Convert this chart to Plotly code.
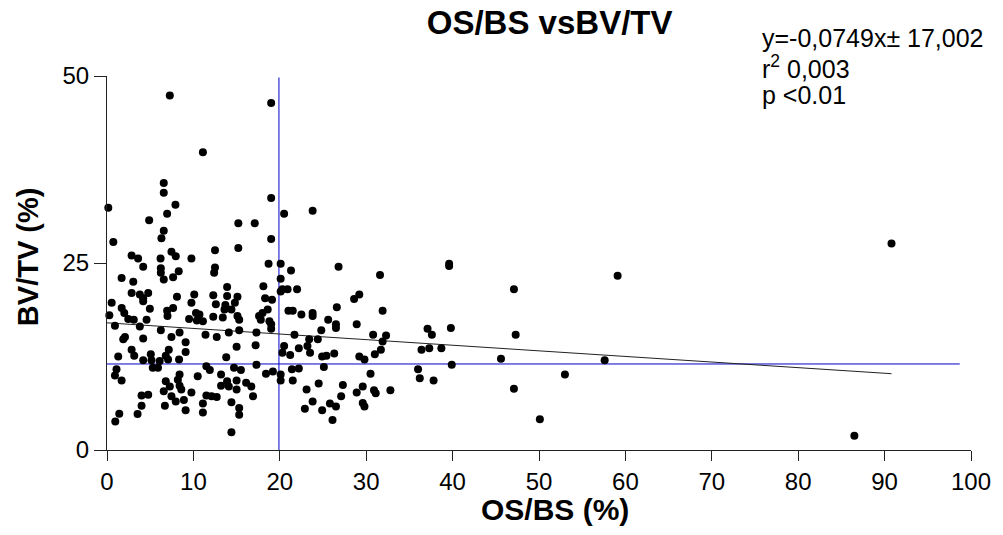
import plotly.graph_objects as go

# OS/BS (%) values
os_bs = [
    7.27, 19.0, 11.1, 0.15, 6.57, 6.57, 7.92, 19.0, 6.96, 4.88, 20.5, 15.2, 17.1, 6.57, 6.3, 0.73, 19.0, 15.2, 12.5, 2.85,
    3.6, 6.2, 7.46, 7.96, 9.77, 23.8,
    4.19, 6.23, 6.23, 8.3, 12.5, 12.4, 18.7, 20.1, 1.69, 6.57, 7.65, 3.04, 20.1, 13.9, 18.1, 20.3, 2.85, 4.77, 4.19, 3.8,
    8.1, 10.1, 12.3, 13.9, 15.1, 18.3, 19.1, 4.19, 0.54, 12.6, 9.77, 13.7, 14.8, 1.7, 2.0, 4.96, 7.65, 6.96, 10.3, 13.6,
    14.4, 18.0, 18.6, 21.0, 0.27, 7.0, 10.7, 12.3, 13.4, 15.1, 17.6, 2.46, 3.1, 4.58, 9.5, 10.4, 11.1, 15.3, 17.8, 18.8,
    0.92, 3.8, 19.0, 6.23, 8.4, 14.1, 15.3, 17.3, 11.4, 7.46, 2.08, 1.88, 4.19, 12.7, 9.1, 15.0, 17.2, 2.85, 7.15, 9.1,
    3.15, 1.3, 5.07, 6.8, 13.8, 4.19, 5.15, 6.1, 7.07, 8.34, 5.3, 5.9, 11.5, 1.1, 17.3, 14.7, 15.5, 11.9, 8.4, 10.5,
    13.2, 18.4, 20.1, 0.92, 1.69, 6.8, 8.2, 13.9, 15.0, 16.1, 20.1, 7.27, 8.4, 13.2, 14.1, 16.7, 6.57, 8.6, 9.77, 15.0,
    4.0, 4.77, 7.46, 11.5, 12.7, 16.9, 12.1, 7.96, 8.9, 14.4, 4.0, 6.7, 11.1, 15.3, 9.1, 11.1, 15.3, 1.42, 3.54, 0.96,
    14.4,
    21.3, 26.8, 31.6, 39.6, 39.6, 20.1, 20.9, 22.0, 29.2, 28.6, 21.5, 22.5, 23.8, 23.8, 26.6, 31.9, 25.6, 26.5, 26.5, 28.9,
    19.0, 24.8, 37.1, 37.6, 39.8, 21.7, 30.8, 32.3, 31.9, 23.4, 24.4, 23.2, 20.5, 22.2, 31.7, 36.4, 37.3, 38.7, 20.3, 21.2,
    23.5, 26.3, 24.9, 25.4, 29.2, 29.8, 31.0, 39.9, 21.4, 22.2, 25.1, 36.0, 19.2, 21.5, 30.5, 36.2, 37.8, 24.5, 23.1, 27.3,
    29.6, 30.9, 32.8, 28.9, 31.1, 27.1, 23.8, 25.8, 26.5, 29.6, 29.8, 22.9, 24.9, 26.1,
    59.1, 47.1, 47.3, 45.6, 57.6, 53.0, 47.1, 50.1, 90.8, 86.5,
]

# BV/TV (%) values
bv_tv = [
    47.4, 46.4, 39.8, 32.4, 35.7, 34.4, 32.8, 33.7, 31.6, 30.7, 31.6, 30.3, 30.3, 29.3, 28.3, 27.8, 28.2, 27.0, 26.7, 26.0,
    25.6, 25.6, 26.5, 25.9, 25.6, 32.0,
    24.5, 24.3, 23.7, 23.9, 24.4, 23.7, 24.9, 24.9, 23.0, 22.8, 23.1, 22.5, 22.9, 21.8, 21.9, 21.5, 21.0, 21.0, 20.3, 20.8,
    20.5, 20.8, 20.7, 20.6, 20.5, 20.3, 20.1, 19.9, 19.7, 19.5, 19.7, 19.4, 19.7, 19.0, 18.3, 18.9, 19.0, 18.6, 18.3, 18.8,
    18.8, 18.3, 18.8, 18.6, 18.0, 17.9, 18.1, 17.8, 17.7, 17.9, 17.9, 17.5, 17.4, 17.4, 17.5, 17.3, 17.2, 17.4, 17.4, 17.2,
    16.6, 16.5, 16.2, 16.0, 15.7, 15.7, 16.0, 15.7, 15.4, 15.1, 15.1, 14.8, 14.9, 15.1, 14.4, 13.8, 14.0, 13.4, 13.4, 13.1,
    12.6, 12.5, 12.8, 12.6, 12.4, 12.0, 12.0, 11.9, 12.1, 12.1, 11.0, 11.0, 11.2, 10.8, 11.4, 11.0, 10.7, 10.7, 10.1, 9.85,
    10.1, 10.2, 10.1, 9.95, 9.3, 9.2, 9.4, 9.2, 9.3, 9.0, 9.3, 8.5, 8.6, 8.6, 8.5, 8.5, 7.85, 8.1, 7.7, 8.1,
    7.3, 7.4, 7.2, 7.3, 7.1, 7.2, 7.2, 6.5, 6.7, 6.4, 5.9, 5.9, 6.2, 5.6, 5.3, 5.0, 4.7, 4.86, 4.8, 3.8,
    2.36,
    24.0, 24.5, 23.4, 24.6, 24.9, 21.2, 21.5, 21.5, 20.8, 20.2, 18.6, 18.1, 18.3, 17.9, 19.1, 18.6, 17.4, 16.8, 16.3, 16.8,
    16.8, 16.0, 16.2, 15.4, 16.3, 15.4, 15.4, 15.3, 14.5, 14.8, 14.8, 13.9, 13.9, 13.6, 13.4, 13.4, 13.6, 13.6, 13.0, 12.7,
    13.0, 12.9, 12.5, 12.6, 12.5, 12.1, 12.8, 11.4, 10.8, 10.9, 11.1, 10.8, 10.5, 9.3, 10.2, 9.6, 9.3, 8.9, 8.1, 8.7,
    8.5, 8.0, 8.0, 7.7, 7.6, 7.2, 6.5, 6.2, 5.8, 6.3, 5.8, 5.5, 5.3, 4.0,
    23.3, 21.5, 15.4, 12.2, 12.0, 10.1, 8.2, 4.1, 27.6, 1.9,
]

# regression from the chart's equation
slope = -0.0749
intercept = 17.002

# reference (mean) lines as drawn
hline_x = [0, 98.7]
hline_y = [11.5, 11.5]
vline_x = [19.9, 19.9]
vline_y = [-0.5, 49.8]

x_ticks = [0, 10, 20, 30, 40, 50, 60, 70, 80, 90, 100]
y_ticks = [0, 25, 50]

stats_lines = ["y=-0,0749x\u00b1 17,002", "r<sup>2</sup> 0,003", "p <0.01"]
stats_centers_px = [38, 67, 95]

FONT = "Liberation Sans, Arial, sans-serif"

fig = go.Figure()

fig.add_trace(go.Scatter(x=hline_x, y=hline_y, mode="lines",
                         line=dict(color="#0000cc", width=1), cliponaxis=False, hoverinfo="skip"))
fig.add_trace(go.Scatter(x=vline_x, y=vline_y, mode="lines",
                         line=dict(color="#0000cc", width=1), cliponaxis=False, hoverinfo="skip"))

reg_x = [0, max(os_bs)]
reg_y = [intercept + slope * v for v in reg_x]
fig.add_trace(go.Scatter(x=reg_x, y=reg_y, mode="lines",
                         line=dict(color="#222222", width=1), cliponaxis=False, hoverinfo="skip"))

fig.add_trace(go.Scatter(x=os_bs, y=bv_tv, mode="markers",
                         marker=dict(color="black", size=8, line=dict(width=0)),
                         cliponaxis=False))

fig.update_layout(
    width=1003, height=535,
    margin=dict(l=107, r=29, t=76, b=85),
    paper_bgcolor="white", plot_bgcolor="white",
    showlegend=False,
    font=dict(family=FONT, color="black", size=24),
    title=dict(text="<b>OS/BS vsBV/TV</b>", x=0.548, xanchor="center",
               y=1 - 22 / 535, yanchor="middle", yref="container",
               font=dict(family=FONT, size=33, color="black")),
)

fig.update_xaxes(range=[0, 100], tickvals=x_ticks, ticktext=[str(v) for v in x_ticks],
                 showline=True, linecolor="#222222", linewidth=1,
                 ticks="outside", ticklen=10, tickcolor="#222222",
                 showgrid=False, zeroline=False,
                 tickfont=dict(family=FONT, size=24, color="black"))
fig.update_yaxes(range=[0, 50], tickvals=y_ticks, ticktext=[str(v) for v in y_ticks],
                 showline=True, linecolor="#222222", linewidth=1,
                 ticks="outside", ticklen=12, tickcolor="#222222",
                 showgrid=False, zeroline=False,
                 tickfont=dict(family=FONT, size=24, color="black"))

fig.add_annotation(text="<b>OS/BS (%)</b>", xref="paper", yref="paper",
                   x=0.518, y=-0.1595, xanchor="center", yanchor="middle",
                   showarrow=False, font=dict(family=FONT, size=30, color="black"))
fig.add_annotation(text="<b>BV/TV (%)</b>", xref="paper", yref="paper",
                   x=-0.0911, y=0.5164, xanchor="center", yanchor="middle", textangle=-90,
                   showarrow=False, font=dict(family=FONT, size=29, color="black"))

for line, cy in zip(stats_lines, stats_centers_px):
    fig.add_annotation(text=line, xref="paper", yref="paper",
                       x=(762 - 107) / 867, y=(450.3 - cy) / 374.3,
                       xanchor="left", yanchor="middle", align="left", showarrow=False,
                       font=dict(family=FONT, size=25, color="black"))

fig.write_html("out.html")
